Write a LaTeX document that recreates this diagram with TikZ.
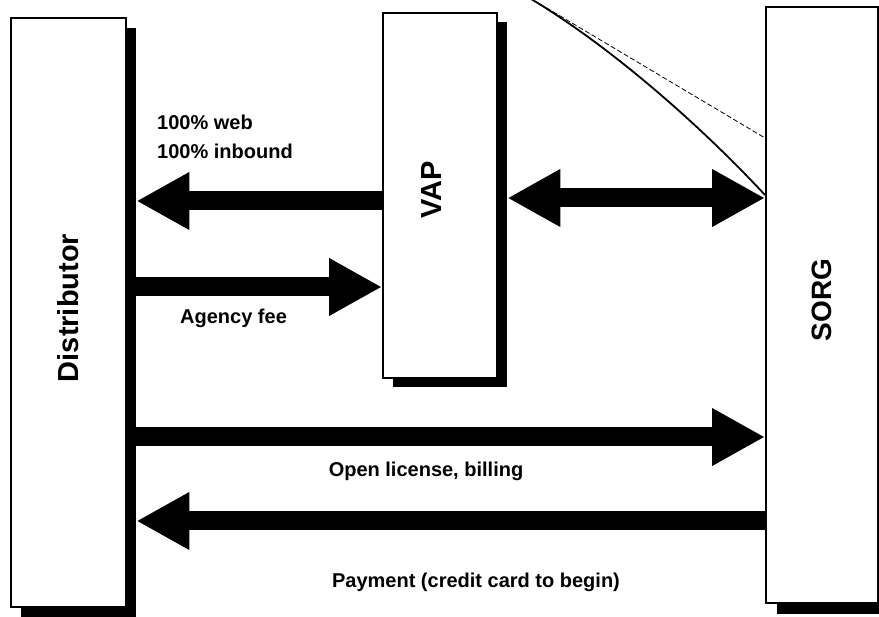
\documentclass[tikz,border=0pt]{standalone}
\usepackage{fontspec}
\setmainfont{Liberation Sans}
\usetikzlibrary{arrows.meta}
\tikzset{
  box/.style={draw=black, line width=1.8pt, fill=white, inner sep=0pt, anchor=north west},
  shadowbox/.style={fill=black, inner sep=0pt, anchor=north west},
  fat/.style={line width=19pt, -{Triangle[length=53pt,width=54pt]}},
  fatboth/.style={line width=19pt, {Triangle[length=53pt,width=54pt]}-{Triangle[length=53pt,width=54pt]}},
  lbl/.style={font=\bfseries\fontsize{20}{24}\selectfont, inner sep=0pt},
  biglbl/.style={font=\bfseries\fontsize{29}{34}\selectfont, inner sep=0pt, rotate=90}
}
\begin{document}
\begin{tikzpicture}[x=1pt, y=-1pt]
\useasboundingbox (0,0) rectangle (879,617);
\clip (0,0) rectangle (879,617);
\fill[white] (0,0) rectangle (879,617);

% shadows
\node[shadowbox, minimum width=115pt, minimum height=589pt] (dists) at (21,28) {};
\node[shadowbox, minimum width=114pt, minimum height=365pt] (vaps) at (393,22) {};
\node[shadowbox, minimum width=112pt, minimum height=596pt] (sorgs) at (777,18) {};

% boxes
\node[box, minimum width=115pt, minimum height=589pt] (dist) at (10,17) {};
\node[box, minimum width=114pt, minimum height=365pt] (vap) at (382,12) {};
\node[box, minimum width=112pt, minimum height=596pt] (sorg) at (765,6) {};

% box labels
\node[biglbl] (distl) at (68,308) {Distributor};
\node[biglbl] (vapl) at (432,190) {VAP};
\node[biglbl, font=\bfseries\fontsize{28}{33}\selectfont] (sorgl) at (822,300) {SORG};

% curve and dashed line at top right
\coordinate (ctop) at (526,-4);
\coordinate (dtop) at (540,4);
\draw[line width=1.8pt] (ctop) .. controls (608,44) and (700,125) .. (sorg.west |- 0,195);
\draw[line width=0.8pt, dash pattern=on 5pt off 2.5pt] (dtop) -- (sorg.west |- 0,138);

% arrows
\draw[fat] (vap.west |- 0,201) -- (dists.east |- 0,201);
\draw[fat] (dists.east |- 0,287) -- (vap.west |- 0,287);
\draw[fatboth] (vaps.east |- 0,198) -- (sorg.west |- 0,198);
\draw[fat] (dists.east |- 0,437) -- (sorg.west |- 0,437);
\draw[fat] (sorg.west |- 0,521) -- (dists.east |- 0,521);

% texts
\node[lbl, anchor=base west] (t1) at (157,130) {100\% web};
\node[lbl, anchor=base west] (t2) at (157,159) {100\% inbound};
\node[lbl, anchor=base west] (t3) at (180,324) {Agency fee};
\node[lbl, anchor=base] (t4) at (426,477) {Open license, billing};
\node[lbl, anchor=base] (t5) at (476,587) {Payment (credit card to begin)};
\end{tikzpicture}
\end{document}
